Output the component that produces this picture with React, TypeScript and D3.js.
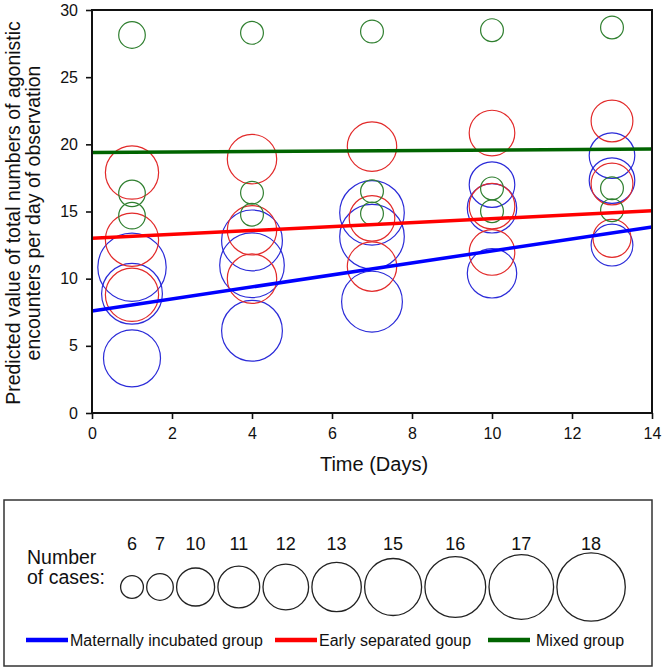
import React, { useRef, useEffect } from 'react';
import * as d3 from 'd3';

const days = [1, 4, 7, 10, 13];
const xTicks = [0, 2, 4, 6, 8, 10, 12, 14];
const yTicks = [0, 5, 10, 15, 20, 25, 30];

// predicted values per day (3 animals per day) and their number of cases
const maternalValues = [[10.85, 8.88, 4.07], [12.85, 11.0, 6.12], [14.9, 13.13, 8.29], [17.0, 15.24, 10.4], [19.16, 17.3, 12.5]];
const maternalCases = [[18, 16, 15], [16, 17, 16], [17, 17, 16], [12, 13, 13], [12, 12, 11]];
const earlyValues = [[17.9, 12.9, 8.8], [18.9, 13.6, 10.0], [19.83, 14.49, 10.9], [20.84, 15.4, 11.95], [21.74, 17.05, 13.0]];
const earlyCases = [[14, 14, 14], [13, 13, 13], [13, 12, 13], [12, 12, 12], [11, 11, 10]];
const mixedValues = [[28.14, 16.35, 14.69], [28.3, 16.4, 14.76], [28.4, 16.5, 14.85], [28.5, 16.72, 15.02], [28.7, 16.73, 15.1]];
const mixedCases = [[7, 7, 7], [6, 6, 6], [6, 6, 6], [6, 6, 6], [6, 6, 6]];

// fitted lines, at day 0 and day 14
const fitDays = [0, 14];
const maternalFit = [7.6, 13.85];
const earlyFit = [13.0, 15.05];
const mixedFit = [19.4, 19.65];

const legendCases = [6, 7, 10, 11, 12, 13, 15, 16, 17, 18];
const groupNames = ['Maternally incubated group', 'Early separated goup', 'Mixed group'];

export default function App() {
  const ref = useRef<SVGSVGElement>(null);
  useEffect(() => {
    const svg = d3.select(ref.current);
    svg.selectAll('*').remove();
    const font = '"Liberation Sans", Arial, sans-serif';
    const x = d3.scaleLinear().domain([0, 14]).range([92, 652]);
    const y = d3.scaleLinear().domain([0, 30]).range([413, 10]);
    const r = d3.scaleLinear().domain([0, 18]).range([0, 34.2]);

    const groups = [
      { values: maternalValues, cases: maternalCases, fit: maternalFit, dot: '#2b2bd8', line: '#0000ff' },
      { values: earlyValues, cases: earlyCases, fit: earlyFit, dot: '#e22a2a', line: '#ff0000' },
      { values: mixedValues, cases: mixedCases, fit: mixedFit, dot: '#2f7f2f', line: '#006400' },
    ];

    groups.forEach(g => {
      days.forEach((d, i) => {
        g.values[i].forEach((v, j) => {
          svg.append('circle')
            .attr('cx', x(d))
            .attr('cy', y(v))
            .attr('r', r(g.cases[i][j]))
            .attr('fill', 'none')
            .attr('stroke', g.dot)
            .attr('stroke-width', 1.2);
        });
      });
    });

    const line = d3.line<number>().x((_, i) => x(fitDays[i])).y(v => y(v));
    groups.forEach(g => {
      svg.append('path')
        .attr('d', line(g.fit))
        .attr('fill', 'none')
        .attr('stroke', g.line)
        .attr('stroke-width', 3.5);
    });

    // frame
    svg.append('rect')
      .attr('x', 92).attr('y', 10).attr('width', 560).attr('height', 403)
      .attr('fill', 'none').attr('stroke', '#111').attr('stroke-width', 2);

    const yAxis = svg.append('g').attr('transform', 'translate(92,0)')
      .call(d3.axisLeft(y).tickValues(yTicks).tickSize(6).tickPadding(8).tickSizeOuter(0));
    const xAxis = svg.append('g').attr('transform', 'translate(0,413)')
      .call(d3.axisBottom(x).tickValues(xTicks).tickSize(6).tickPadding(9).tickSizeOuter(0));
    [yAxis, xAxis].forEach(a => {
      a.select('.domain').remove();
      a.selectAll('line').attr('stroke', '#111').attr('stroke-width', 1.6);
      a.selectAll('text').attr('font-family', font).attr('font-size', 16).attr('fill', '#111');
    });

    svg.append('text')
      .attr('x', 374).attr('y', 471)
      .attr('text-anchor', 'middle')
      .attr('font-family', font).attr('font-size', 20).attr('fill', '#111')
      .text('Time (Days)');

    const yTitle = svg.append('g').attr('transform', 'translate(0,213) rotate(-90)');
    ['Predicted value of total numbers of agonistic', 'encounters per day of observation'].forEach((t, i) => {
      yTitle.append('text')
        .attr('x', 0).attr('y', 20 + i * 20)
        .attr('text-anchor', 'middle')
        .attr('font-family', font).attr('font-size', 19.5).attr('fill', '#111')
        .text(t);
    });

    // legend
    svg.append('rect')
      .attr('x', 4).attr('y', 500).attr('width', 648).attr('height', 166)
      .attr('fill', 'none').attr('stroke', '#333').attr('stroke-width', 1.5);
    ['Number', 'of cases:'].forEach((t, i) => {
      svg.append('text')
        .attr('x', 27).attr('y', 564 + i * 20)
        .attr('font-family', font).attr('font-size', 19.5).attr('fill', '#111')
        .text(t);
    });
    let edge = 120.6;
    legendCases.forEach(n => {
      const cx = edge + r(n);
      edge = cx + r(n) + 3.3;
      svg.append('circle')
        .attr('cx', cx).attr('cy', 587).attr('r', r(n))
        .attr('fill', 'none').attr('stroke', '#222').attr('stroke-width', 1.3);
      svg.append('text')
        .attr('x', cx).attr('y', 550)
        .attr('text-anchor', 'middle')
        .attr('font-family', font).attr('font-size', 18).attr('fill', '#111')
        .text(n);
    });
    const legendX = [26, 275, 488];
    groups.forEach((g, i) => {
      svg.append('line')
        .attr('x1', legendX[i]).attr('x2', legendX[i] + 42)
        .attr('y1', 640).attr('y2', 640)
        .attr('stroke', g.line).attr('stroke-width', 4.5);
      svg.append('text')
        .attr('x', legendX[i] + 44 + (i === 2 ? 4 : 0)).attr('y', 646)
        .attr('font-family', font).attr('font-size', 16).attr('fill', '#111')
        .text(groupNames[i]);
    });
  }, []);
  return (
    <svg
      ref={ref}
      width={662}
      height={669}
      style={{ position: 'absolute', left: 0, top: 0, background: '#fff' }}
    />
  );
}
